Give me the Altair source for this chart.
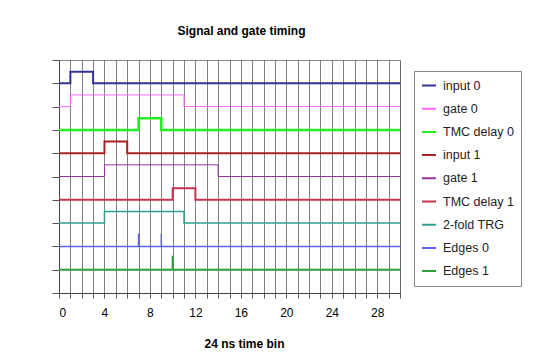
import altair as alt
import pandas as pd

names = ["input 0", "gate 0", "TMC delay 0", "input 1", "gate 1",
         "TMC delay 1", "2-fold TRG", "Edges 0", "Edges 1"]
colors = ["#333399", "#FF66FF", "#22EE22", "#AA2222", "#993399",
          "#C8324A", "#2FA090", "#6060F0", "#2E9E3A"]
widths = [2, 1, 2.5, 2, 1, 2, 1.5, 1.5, 2]
baseline = [9, 8, 7, 6, 5, 4, 3, 2, 1]
# pulses: (start, end) ; spikes: list of times with height
pulse_start = [1, 1, 7, 4, 4, 10, 4, None, None]
pulse_end = [3, 11, 9, 6, 14, 12, 11, None, None]
pulse_height = 0.5
spike_times = [[], [], [], [], [], [], [], [7, 9], [10]]
spike_height = [0, 0, 0, 0, 0, 0, 0, 0.55, 0.6]
x_max = 30

rows = []
for i, n in enumerate(names):
    b = baseline[i]
    pts = [(0, b)]
    if pulse_start[i] is not None:
        s, e = pulse_start[i], pulse_end[i]
        pts += [(s, b), (s, b + pulse_height), (e, b + pulse_height), (e, b)]
    for t in spike_times[i]:
        pts += [(t, b), (t, b + spike_height[i]), (t, b)]
    pts.append((x_max, b))
    for k, (x, y) in enumerate(pts):
        rows.append({"series": n, "x": x, "y": y, "k": k, "w": widths[i]})
df = pd.DataFrame(rows)

font = "Liberation Sans"

chart = alt.Chart(df).mark_line(interpolate="linear").encode(
    x=alt.X("x:Q", scale=alt.Scale(domain=[0, 30], nice=False),
            axis=alt.Axis(values=list(range(0, 31)), grid=True, gridColor="#606060",
                          gridOpacity=0.8, gridWidth=1,
                          labelExpr="datum.value % 4 == 0 ? datum.label : ''",
                          labelFontSize=12, labelFont=font, labelColor="#000",
                          labelPadding=9, tickSize=5, tickColor="#555",
                          domainColor="#444", title="24 ns time bin",
                          titleFont=font, titleFontSize=12, titleFontWeight="bold",
                          titleX=185, titleY=54, titleBaseline="alphabetic")),
    y=alt.Y("y:Q", scale=alt.Scale(domain=[0, 10], nice=False),
            axis=alt.Axis(values=list(range(0, 11)), grid=False, labels=False,
                          tickSize=7, tickColor="#555", domainColor="#444",
                          title=None)),
    color=alt.Color("series:N", scale=alt.Scale(domain=names, range=colors),
                    sort=names,
                    legend=alt.Legend(title=None, orient="none", legendX=355, legendY=11,
                                      strokeColor="#888", padding=7,
                                      symbolType="stroke", symbolSize=196,
                                      symbolStrokeWidth=2, labelFont=font,
                                      labelFontSize=12.5, labelColor="#222",
                                      labelOffset=6,
                                      rowPadding=8.2, clipHeight=15)),
    size=alt.Size("w:Q", scale=None, legend=None),
    detail="series:N",
    order="k:Q",
).properties(
    width=341, height=233,
    title=alt.TitleParams("Signal and gate timing", font=font, fontSize=12,
                          fontWeight="bold", frame="group", anchor="middle",
                          dx=12, offset=22),
    autosize=alt.AutoSizeParams(type="none"),
    padding={"left": 51, "top": 52, "right": 133, "bottom": 57},
).configure_view(stroke="#888", strokeWidth=1)

chart.save("out.html", embed_options={"renderer": "svg", "actions": False})
